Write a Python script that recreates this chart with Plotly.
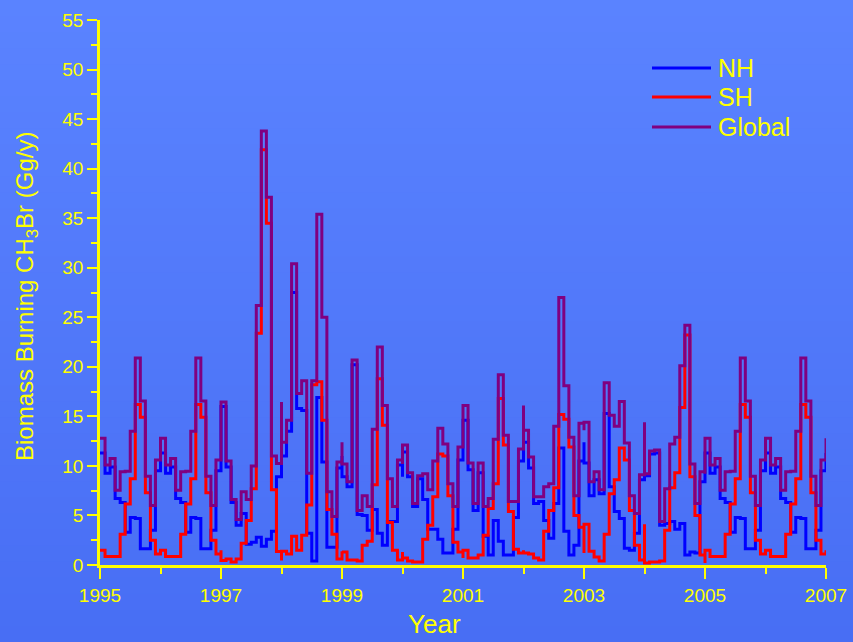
import plotly.graph_objects as go

# Monthly biomass-burning CH3Br emissions (Gg/y), Jan..Dec for each year 1995-2006
years = list(range(1995, 2007))

nh = [
    11.3, 9.25, 9.9, 6.7, 6.3, 3.3, 4.8, 4.7, 1.65, 1.65, 3.5, 9.5,    # 1995
    11.3, 9.25, 9.9, 6.7, 6.3, 3.3, 4.8, 4.7, 1.65, 1.65, 3.5, 9.5,    # 1996
    16.0, 9.9, 6.3, 4.0, 5.2, 2.1, 2.3, 2.8, 1.9, 2.6, 3.4, 8.9,       # 1997
    11.0, 13.5, 27.5, 15.8, 15.6, 3.2, 0.4, 16.9, 10.4, 1.8, 1.8, 9.8, # 1998
    8.9, 7.9, 20.2, 5.1, 5.0, 3.5, 5.6, 3.2, 2.0, 4.4, 4.4, 10.1,      # 1999
    11.4, 8.9, 5.9, 8.7, 6.6, 3.6, 3.6, 2.6, 1.2, 1.2, 3.6, 10.6,      # 2000
    14.6, 9.6, 5.5, 9.3, 2.9, 1.0, 4.5, 2.4, 1.0, 1.0, 4.8, 10.5,      # 2001
    12.4, 9.8, 6.2, 6.4, 4.5, 2.7, 6.2, 11.8, 3.4, 1.0, 2.0, 10.5,     # 2002
    10.3, 7.0, 8.6, 7.2, 15.3, 7.9, 5.4, 4.7, 1.7, 1.5, 3.2, 8.6,      # 2003
    9.0, 11.2, 11.3, 4.0, 4.2, 4.4, 3.6, 4.2, 1.0, 1.3, 1.2, 8.4,      # 2004
    11.3, 9.25, 9.9, 6.7, 6.3, 3.3, 4.8, 4.7, 1.65, 1.65, 3.5, 9.5,    # 2005
    11.3, 9.25, 9.9, 6.7, 6.3, 3.3, 4.8, 4.7, 1.65, 1.65, 3.5, 9.5,    # 2006
]

sh = [
    1.5, 0.85, 0.85, 0.85, 3.1, 6.15, 8.7, 16.2, 14.9, 7.3, 2.5, 1.1,  # 1995
    1.5, 0.85, 0.85, 0.85, 3.1, 6.15, 8.7, 16.2, 14.9, 7.3, 2.5, 1.1,  # 1996
    0.45, 0.6, 0.3, 0.6, 2.2, 4.5, 7.7, 23.4, 41.9, 34.5, 7.6, 1.35,   # 1997
    1.4, 1.1, 2.9, 1.5, 3.0, 6.05, 18.2, 18.5, 14.6, 5.6, 3.1, 0.6,    # 1998
    1.3, 0.5, 0.5, 0.4, 2.0, 2.4, 8.1, 18.8, 14.1, 4.3, 1.5, 0.5,      # 1999
    0.7, 0.4, 0.3, 0.3, 2.6, 4.0, 6.9, 11.2, 11.0, 7.0, 2.3, 1.3,      # 2000
    1.5, 0.7, 0.7, 1.0, 3.0, 5.7, 8.2, 16.8, 12.1, 5.4, 1.6, 1.2,      # 2001
    1.2, 1.1, 0.7, 0.5, 3.4, 5.5, 7.8, 15.2, 14.7, 11.9, 5.0, 3.8,     # 2002
    4.1, 1.4, 0.8, 0.4, 3.1, 7.2, 8.6, 11.8, 10.6, 5.5, 2.0, 0.5,      # 2003
    0.2, 0.3, 0.3, 0.4, 3.5, 7.8, 9.3, 15.9, 23.2, 8.9, 5.0, 1.0,      # 2004
    1.5, 0.85, 0.85, 0.85, 3.1, 6.15, 8.7, 16.2, 14.9, 7.3, 2.5, 1.1,  # 2005
    1.5, 0.85, 0.85, 0.85, 3.1, 6.15, 8.7, 16.2, 14.9, 7.3, 2.5, 1.1,  # 2006
]

glob = [
    12.8, 10.1, 10.75, 7.55, 9.4, 9.45, 13.5, 20.9, 16.55, 8.95, 6.0, 10.6,  # 1995
    12.8, 10.1, 10.75, 7.55, 9.4, 9.45, 13.5, 20.9, 16.55, 8.95, 6.0, 10.6,  # 1996
    16.45, 10.5, 6.6, 4.6, 7.4, 6.6, 10.0, 26.2, 43.8, 37.1, 11.0, 10.25,    # 1997
    12.4, 14.6, 30.4, 17.3, 18.6, 9.25, 18.6, 35.4, 25.0, 7.4, 4.9, 10.4,    # 1998
    10.2, 8.4, 20.7, 5.5, 7.0, 5.9, 13.7, 22.0, 16.1, 8.7, 5.9, 10.6,        # 1999
    12.1, 9.3, 6.2, 9.0, 9.2, 7.6, 10.5, 13.8, 12.2, 8.2, 5.9, 11.9,         # 2000
    16.1, 10.3, 6.2, 10.3, 5.9, 6.7, 12.7, 19.2, 13.1, 6.4, 6.4, 11.7,       # 2001
    13.6, 10.9, 6.9, 6.9, 7.9, 8.2, 14.0, 27.0, 18.1, 12.9, 7.0, 14.3,       # 2002
    14.4, 8.4, 9.4, 7.6, 18.4, 15.1, 14.0, 16.5, 12.3, 7.0, 5.2, 9.1,        # 2003
    9.2, 11.5, 11.6, 4.4, 7.7, 12.2, 12.9, 20.1, 24.2, 10.2, 6.2, 9.4,       # 2004
    12.8, 10.1, 10.75, 7.55, 9.4, 9.45, 13.5, 20.9, 16.55, 8.95, 6.0, 10.6,  # 2005
    12.8, 10.1, 10.75, 7.55, 9.4, 9.45, 13.5, 20.9, 16.55, 8.95, 6.0, 10.6,  # 2006
]

series_names = ["NH", "SH", "Global"]
series_colors = ["#0000FF", "#FF0000", "#800080"]

YELLOW = "#FFFF00"
FONT = "Arial, Liberation Sans, sans-serif"


def yearly_steps(values):
    """Each year is drawn as a closed annual cycle: 12 monthly steps plus a
    closing point at the next Jan 1 that repeats that year's January."""
    xs, ys = [], []
    for i, yr in enumerate(years):
        row = values[12 * i:12 * i + 12]
        xs += [yr + m / 12 for m in range(12)] + [yr + 1]
        ys += list(row) + [row[0]]
    return xs, ys


fig = go.Figure()
for name, vals, col in zip(series_names, [nh, sh, glob], series_colors):
    xs, ys = yearly_steps(vals)
    fig.add_trace(go.Scatter(
        x=xs, y=ys, mode="lines", name=name, showlegend=False,
        line=dict(color=col, width=3, shape="hv"),
    ))

W, H = 853, 642
L, R, T, B = 100, 27, 20, 77
pw, ph = W - L - R, H - T - B


def px(xp):
    return (xp - L) / pw


def py(yp):
    return (H - B - yp) / ph


# vertical background gradient over the whole page
shapes = []
n_bands = 40
top = (90, 131, 255)
bot = (72, 110, 244)
for i in range(n_bands):
    t = i / (n_bands - 1)
    c = tuple(round(top[k] + (bot[k] - top[k]) * t) for k in range(3))
    ya = i * H / n_bands
    yb = (i + 1) * H / n_bands + 1
    shapes.append(dict(type="rect", xref="paper", yref="paper",
                       x0=px(-5), x1=px(W + 5), y0=py(yb), y1=py(ya),
                       fillcolor="rgb(%d,%d,%d)" % c, line=dict(width=0),
                       layer="below"))

annotations = []

# legend: line samples with labels
legend_y = [68, 97, 127]
for name, col, ly in zip(series_names, series_colors, legend_y):
    shapes.append(dict(type="line", xref="paper", yref="paper",
                       x0=px(652), x1=px(711), y0=py(ly), y1=py(ly),
                       line=dict(color=col, width=3)))
    annotations.append(dict(xref="paper", yref="paper", x=px(716), y=py(ly),
                            text=name, showarrow=False, xanchor="left",
                            yanchor="middle",
                            font=dict(family=FONT, size=25, color=YELLOW)))

# axis titles
annotations.append(dict(xref="paper", yref="paper", x=px(434), y=py(624),
                        text="Year", showarrow=False, xanchor="center",
                        yanchor="middle",
                        font=dict(family=FONT, size=26, color=YELLOW)))
annotations.append(dict(xref="paper", yref="paper", x=px(26), y=py(297),
                        text="Biomass Burning CH<sub>3</sub>Br (Gg/y)",
                        textangle=-90, showarrow=False, xanchor="center",
                        yanchor="middle",
                        font=dict(family=FONT, size=24, color=YELLOW)))

tick_common = dict(
    showgrid=False, zeroline=False, showline=True, linecolor=YELLOW,
    linewidth=2.5, tickcolor=YELLOW, tickwidth=2, automargin=False,
)

fig.update_layout(
    width=W, height=H,
    margin=dict(l=L, r=R, t=T, b=B),
    paper_bgcolor="#5680FA",
    plot_bgcolor="rgba(0,0,0,0)",
    shapes=shapes,
    annotations=annotations,
    showlegend=False,
    xaxis=dict(
        range=[1995, 2007], tick0=1995, dtick=2, ticks="outside", ticklen=11,
        tickformat="d",
        minor=dict(dtick=1, tick0=1995, ticks="outside", ticklen=6,
                   tickcolor=YELLOW, tickwidth=2),
        tickfont=dict(family=FONT, size=19, color=YELLOW),
        **tick_common,
    ),
    xaxis2=dict(
        range=[1995, 2007], overlaying="x", side="top", anchor="y",
        tick0=1995, dtick=2, ticks="inside", ticklen=11, showticklabels=False,
        minor=dict(dtick=1, tick0=1995, ticks="inside", ticklen=6,
                   tickcolor=YELLOW, tickwidth=2),
        **tick_common,
    ),
    yaxis=dict(
        range=[0, 55], tick0=0, dtick=5, ticks="outside", ticklen=10,
        minor=dict(dtick=2.5, tick0=0, ticks="outside", ticklen=6,
                   tickcolor=YELLOW, tickwidth=2),
        tickfont=dict(family=FONT, size=19, color=YELLOW),
        **tick_common,
    ),
    yaxis2=dict(
        range=[0, 55], overlaying="y", side="right", anchor="x",
        tick0=0, dtick=5, ticks="inside", ticklen=10, showticklabels=False,
        minor=dict(dtick=2.5, tick0=0, ticks="inside", ticklen=6,
                   tickcolor=YELLOW, tickwidth=2),
        **tick_common,
    ),
)

fig.write_html("out.html")
